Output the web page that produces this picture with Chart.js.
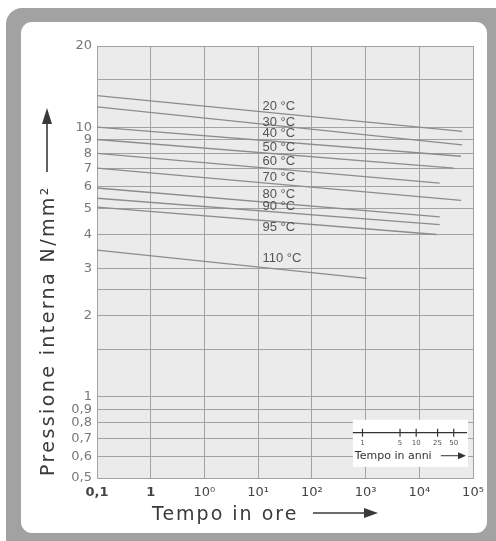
<!DOCTYPE html>
<html>
<head>
<meta charset="utf-8">
<script src="https://cdn.jsdelivr.net/npm/chart.js@4"></script>
<style>
  html, body { margin: 0; padding: 0; background: #fff; }
  #wrap { width: 496px; height: 541px; }
</style>
</head>
<body>
<div id="wrap"><canvas id="pipe-chart" width="496" height="541"></canvas></div>
<script>
// tick values and labels (the x labels are printed this way on the original sheet)
const hourTicks = [0.1, 1, 10, 100, 1000, 10000, 100000, 1000000];
const hourTickLabels = ["0,1", "1", "10⁰", "10¹", "10²", "10³", "10⁴", "10⁵"];
const pressureTicks = [0.5, 0.6, 0.7, 0.8, 0.9, 1, 1.5, 2, 2.5, 3, 4, 5, 6, 7, 8, 9, 10, 15, 20];
const pressureTickLabels = ["0,5", "0,6", "0,7", "0,8", "0,9", "1", "", "2", "", "3", "4", "5", "6", "7", "8", "9", "10", "", "20"];

// regression lines, one per temperature
const temps = ["20 °C", "30 °C", "40 °C", "50 °C", "60 °C", "70 °C", "80 °C", "90 °C", "95 °C", "110 °C"];
const startHour = 0.1;
const startPressure = [13.1, 11.9, 10.0, 9.0, 8.0, 7.05, 5.95, 5.45, 5.05, 3.5];
const endHours = [630000, 630000, 600000, 440000, 240000, 600000, 240000, 240000, 210000, 10500];
const endPressure = [9.65, 8.6, 7.8, 7.05, 6.2, 5.35, 4.65, 4.35, 4.0, 2.75];

// where the temperature names sit
const labelHour = 120;
const labelPressure = [11.9, 10.4, 9.5, 8.43, 7.44, 6.53, 5.65, 5.07, 4.26, 3.27];

// small "Tempo in anni" scale
const yearTicks = [1, 5, 10, 25, 50];
const hoursPerYear = 8760;

const LINE_GREY = "#8c8c8c";
const GRID_GREY = "#a2a2a2";

const arrow = (ctx, x1, y1, x2, y2, head, half) => {
  const ang = Math.atan2(y2 - y1, x2 - x1);
  const bx = x2 - head * Math.cos(ang);
  const by = y2 - head * Math.sin(ang);
  ctx.beginPath();
  ctx.moveTo(x1, y1);
  ctx.lineTo(bx, by);
  ctx.stroke();
  ctx.beginPath();
  ctx.moveTo(x2, y2);
  ctx.lineTo(bx + half * Math.sin(ang), by - half * Math.cos(ang));
  ctx.lineTo(bx - half * Math.sin(ang), by + half * Math.cos(ang));
  ctx.closePath();
  ctx.fill();
};

const framePlugin = {
  id: "frame",
  beforeDraw: (chart) => {
    const { ctx, chartArea } = chart;
    ctx.save();
    ctx.fillStyle = "#ffffff";
    ctx.fillRect(0, 0, chart.width, chart.height);
    ctx.fillStyle = "#a2a2a2";
    ctx.beginPath();
    ctx.roundRect(6, 8, 510, 550, 16);
    ctx.fill();
    ctx.fillStyle = "#ffffff";
    ctx.beginPath();
    ctx.roundRect(21, 22, 466, 511, 11);
    ctx.fill();
    ctx.fillStyle = "#ebebec";
    ctx.fillRect(chartArea.left, chartArea.top, chartArea.right - chartArea.left, chartArea.bottom - chartArea.top);
    ctx.restore();
  },
};

const annotationsPlugin = {
  id: "annotations",
  afterDatasetsDraw: (chart) => {
    const { ctx, scales } = chart;
    const { x, y } = scales;
    ctx.save();

    // temperature names
    ctx.fillStyle = "#555";
    ctx.font = "13px 'Liberation Sans', Arial, sans-serif";
    ctx.textAlign = "left";
    ctx.textBaseline = "middle";
    temps.forEach((t, i) => {
      ctx.fillText(t, x.getPixelForValue(labelHour), y.getPixelForValue(labelPressure[i]));
    });

    // inset with years
    const boxL = x.getPixelForValue(5800);
    const boxR = chart.chartArea.right - 5;
    const boxT = y.getPixelForValue(0.822);
    const boxB = y.getPixelForValue(0.55);
    ctx.fillStyle = "#ffffff";
    ctx.fillRect(boxL, boxT, boxR - boxL, boxB - boxT);
    const axY = y.getPixelForValue(0.736);
    ctx.strokeStyle = "#333";
    ctx.lineWidth = 1.2;
    ctx.beginPath();
    ctx.moveTo(boxL, axY);
    ctx.lineTo(boxR - 1, axY);
    ctx.stroke();
    ctx.font = "7px 'DejaVu Sans', sans-serif";
    ctx.fillStyle = "#555";
    ctx.textAlign = "center";
    yearTicks.forEach((yr) => {
      const px = x.getPixelForValue(yr * hoursPerYear);
      ctx.beginPath();
      ctx.moveTo(px, axY - 4);
      ctx.lineTo(px, axY + 4);
      ctx.stroke();
      ctx.fillText(String(yr), px, axY + 10);
    });
    ctx.fillStyle = "#333";
    ctx.textAlign = "left";
    ctx.font = "11px 'DejaVu Sans', sans-serif";
    ctx.letterSpacing = "0px";
    ctx.fillText("Tempo in anni", boxL + 2, axY + 23);
    ctx.lineWidth = 1;
    arrow(ctx, boxL + 88, axY + 23, boxR - 2, axY + 23, 8, 3.5);

    // axis titles
    ctx.fillStyle = "#3a3a3a";
    ctx.strokeStyle = "#3a3a3a";
    ctx.font = "19px 'DejaVu Sans', sans-serif";
    ctx.letterSpacing = "2px";
    ctx.textBaseline = "alphabetic";
    ctx.fillText("Tempo in ore", 152, 520);
    ctx.lineWidth = 1.6;
    arrow(ctx, 313, 513, 378, 513, 14, 5);

    ctx.save();
    ctx.translate(54, 476);
    ctx.rotate(-Math.PI / 2);
    ctx.letterSpacing = "2.4px";
    ctx.fillText("Pressione interna N/mm²", 0, 0);
    ctx.restore();
    arrow(ctx, 47, 172, 47, 108, 16, 5);

    ctx.restore();
  },
};

const datasets = temps.map((t, i) => ({
  label: t,
  data: [
    { x: startHour, y: startPressure[i] },
    { x: endHours[i], y: endPressure[i] },
  ],
  borderColor: LINE_GREY,
  borderWidth: 1.3,
  pointRadius: 0,
  fill: false,
  tension: 0,
}));

new Chart(document.getElementById("pipe-chart"), {
  type: "line",
  data: { datasets: datasets },
  options: {
    responsive: false,
    animation: false,
    layout: { padding: { top: 46, right: 23, left: 0, bottom: 0 } },
    plugins: {
      legend: { display: false },
      tooltip: { enabled: false },
    },
    scales: {
      x: {
        type: "logarithmic",
        min: 0.1,
        max: 1000000,
        afterBuildTicks: (scale) => {
          scale.ticks = hourTicks.map((v) => ({ value: v }));
        },
        afterFit: (scale) => {
          scale.height = 63;
        },
        ticks: {
          autoSkip: false,
          maxRotation: 0,
          padding: 7,
          color: "#444",
          font: (c) => ({
            family: "'DejaVu Sans', sans-serif",
            size: 13,
            weight: c.index < 2 ? "bold" : "normal",
          }),
          callback: (value, index) => hourTickLabels[index],
        },
        grid: { color: GRID_GREY, lineWidth: 1, drawTicks: false },
        border: { color: GRID_GREY },
      },
      y: {
        type: "logarithmic",
        min: 0.5,
        max: 20,
        afterBuildTicks: (scale) => {
          scale.ticks = pressureTicks.map((v) => ({ value: v }));
        },
        afterFit: (scale) => {
          scale.width = 97;
        },
        ticks: {
          autoSkip: false,
          padding: 5,
          color: "#787878",
          font: { family: "'DejaVu Sans', sans-serif", size: 13 },
          callback: (value, index) => pressureTickLabels[index],
        },
        grid: { color: GRID_GREY, lineWidth: 1, drawTicks: false },
        border: { color: GRID_GREY },
      },
    },
  },
  plugins: [framePlugin, annotationsPlugin],
});
</script>
</body>
</html>
